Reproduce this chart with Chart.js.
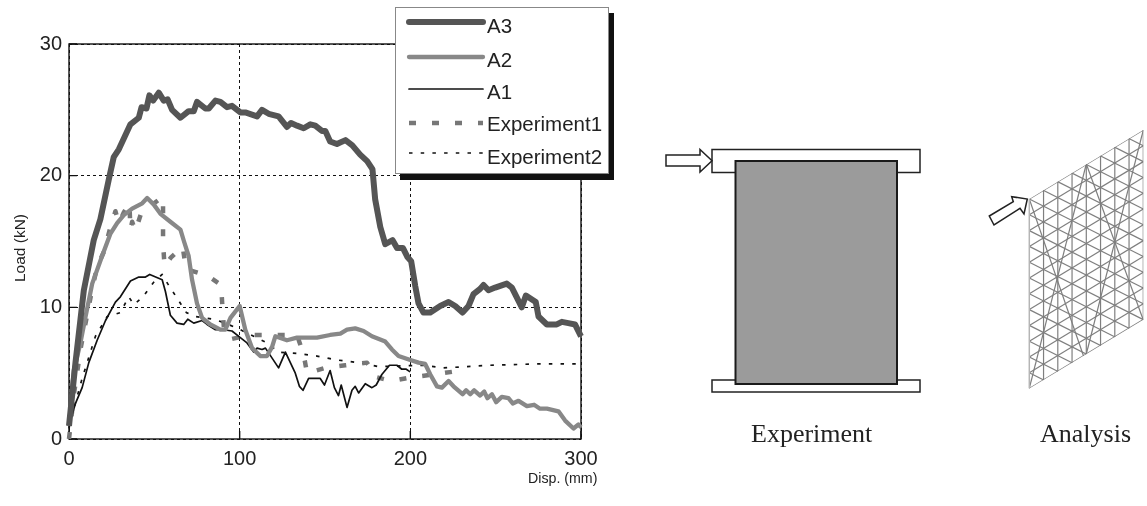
<!DOCTYPE html>
<html>
<head>
<meta charset="utf-8">
<title>Load vs displacement</title>
<script src="https://cdn.jsdelivr.net/npm/chart.js@4"></script>
<style>
  html, body { margin: 0; padding: 0; background: #fff; }
  #wrap { position: relative; width: 1147px; height: 506px; overflow: hidden; font-family: "Liberation Sans", Arial, sans-serif; color: #222; }
  #chart { position: absolute; left: 0; top: 0; }
  #art { position: absolute; left: 0; top: 0; }
  .txt { position: absolute; white-space: nowrap; line-height: 1; }
  .cap { font-family: "Liberation Serif", "Times New Roman", serif; font-size: 26px; }
  #legend { position: absolute; left: 395px; top: 7px; width: 212px; height: 165px; background: #fff; border: 1px solid #888; box-shadow: 5px 6px 0 #111; }
  #legend svg { position: absolute; left: 0; top: 0; }
  #legend .txt { font-size: 20.5px; }
</style>
</head>
<body>
<div id="wrap">
  <canvas id="chart" width="1147" height="506"></canvas>
  <svg id="art" width="1147" height="506"></svg>
  <div id="legend"></div>
  <div class="txt" style="left:20px;top:248px;font-size:15.5px;transform:translate(-50%,-50%) rotate(-90deg)">Load (kN)</div>
  <div class="txt" style="left:528px;top:471px;font-size:14.2px">Disp. (mm)</div>
  <div class="txt cap" style="left:751px;top:421px">Experiment</div>
  <div class="txt cap" style="left:1040px;top:421px">Analysis</div>
</div>
<script>
// values: displacement (mm) / load (kN)
const xTicks = [0, 100, 200, 300];
const yTicks = [0, 10, 20, 30];

const a3X = [0, 3.8, 8.7, 14.5, 18.4, 23.3, 26.2, 29.2, 36, 40.9, 42.5, 45.4, 47.1, 49.3, 52.6, 55.5, 57.8, 60.4, 65.3, 70.1, 73.1, 75, 79.9, 81.9, 85.8, 88.7, 92.6, 95.5, 100.4, 103.3, 110.2, 113.1, 117, 122.8, 127.7, 130.1, 133.6, 137.5, 141.4, 144.3, 148.2, 150.2, 153, 157, 162, 166, 170.6, 174.7, 177.8, 179.4, 182.4, 185.3, 189.6, 192.2, 195.7, 198.4, 200.5, 202.9, 204.8, 207.7, 211.7, 217.5, 222.4, 226.3, 230.6, 234.1, 237, 240.9, 242.9, 245.8, 249.7, 256.5, 259.5, 265.3, 267.7, 273.5, 275.1, 280, 285.8, 288.8, 292.6, 296.5, 300];
const a3Y = [1, 5.8, 11.3, 15.1, 16.7, 19.7, 21.4, 22, 23.9, 24.4, 25.2, 25.1, 26.1, 25.7, 26.3, 25.7, 25.8, 25, 24.4, 24.9, 24.9, 25.6, 25.1, 25.1, 25.7, 25.6, 25.2, 25.3, 24.8, 24.8, 24.5, 25, 24.7, 24.5, 23.7, 24, 23.8, 23.6, 23.9, 23.8, 23.4, 23.4, 22.6, 22.4, 22.7, 22.3, 21.6, 21.1, 20.5, 18.2, 16.1, 14.8, 15.1, 14.5, 14.5, 13.8, 13.5, 11.6, 10.3, 9.6, 9.6, 10.1, 10.4, 10.1, 9.6, 10.1, 11, 11.4, 11.7, 11.3, 11.5, 11.8, 11.5, 10, 10.9, 10.4, 9.3, 8.7, 8.7, 8.9, 8.8, 8.7, 7.8];

const a2X = [0, 2.8, 6.7, 9.7, 13.6, 19.4, 24.3, 28.2, 32.1, 37, 42.9, 45.8, 49.7, 53.6, 59.4, 65.3, 67.4, 70.1, 72.1, 75, 78, 82.8, 88.7, 91.6, 94.6, 100, 103.3, 107.3, 112.1, 116, 119, 120.9, 127.7, 133.6, 145.3, 153, 159, 162.9, 167.7, 172.6, 177.5, 185.3, 189.2, 193.1, 200, 204.8, 208.7, 211.7, 215.6, 218.5, 222.4, 225.3, 230.6, 232.7, 235.1, 237.4, 240.9, 243.3, 245.2, 247.8, 250.3, 253.6, 257.5, 260, 263.4, 268.3, 272.5, 276, 280, 286.8, 290.7, 295.6, 298.5, 300];
const a2Y = [1, 5.2, 7.3, 9.3, 11.8, 13.9, 15.6, 16.4, 17, 17.5, 17.9, 18.3, 17.8, 17.1, 16.5, 15.9, 15, 13.9, 12.1, 10.3, 9.2, 8.7, 8.3, 8.3, 9.2, 10.1, 8.3, 6.9, 6.3, 6.3, 7, 7.8, 7.5, 7.7, 7.7, 7.9, 8, 8.3, 8.4, 8.2, 7.8, 7.4, 6.8, 6.3, 6, 5.8, 5.7, 4.9, 4, 3.9, 4.4, 4, 3.4, 3.7, 3.4, 3.7, 3.3, 3.6, 3.1, 3.4, 2.8, 3.2, 3.1, 2.7, 2.9, 2.5, 2.6, 2.3, 2.3, 2.1, 1.4, 0.8, 1.1, 0.9];

const a1X = [0, 3.8, 7.7, 11.6, 16.5, 21.4, 27.2, 30.1, 36, 40.9, 44.8, 47.3, 54.6, 56.5, 59.4, 63.3, 67.2, 69.6, 73.1, 78, 80.9, 85.8, 90.6, 95.5, 100.4, 104.3, 108.2, 110.2, 113.1, 115.1, 122.8, 126.8, 132.6, 135, 137.1, 140.4, 147.2, 149.7, 153, 155.5, 157.9, 159.5, 162.9, 165.8, 167.7, 169.7, 173.6, 177.5, 180, 183.3, 187.8, 192.1, 195, 197.6, 199.9];
const a1Y = [1.1, 2.7, 3.9, 5.8, 7.5, 9, 10.4, 10.8, 12, 12.3, 12.3, 12.5, 12.1, 11.2, 9.4, 8.8, 8.7, 9.1, 8.8, 9, 8.7, 8.3, 8.3, 8.2, 7.7, 7.3, 6.6, 6.9, 6.8, 6.9, 5.4, 6.6, 5, 4, 3.7, 4.6, 4.6, 4.1, 5.2, 3.9, 3.3, 4.1, 2.4, 3.7, 4, 3.5, 4.2, 3.9, 4.1, 4.9, 5.6, 5.6, 5.3, 5.3, 5.1];

const exp1X = [0, 3, 7, 13.6, 16.5, 20.4, 23.9, 27.2, 29.2, 32.1, 35.4, 36, 37, 38.9, 42.4, 55.1, 55.1, 55.1, 56, 59.8, 66.6, 68.6, 81.3, 89.1, 90, 91, 95.5, 106, 120, 133.6, 137.5, 139.5, 150.2, 161.9, 174.6, 180, 188.8, 201.3, 213.6, 224.4];
const exp1Y = [0, 3.5, 7, 11.4, 13.1, 14.2, 15.9, 17.3, 16.4, 17.2, 17.9, 15.9, 16.5, 15.8, 17.2, 18.4, 16.6, 14.9, 13.1, 13.8, 14.6, 12.9, 12.4, 11.7, 9.8, 8, 7.6, 7.9, 7.9, 7.9, 6.4, 5, 5.4, 5.6, 5.8, 4.7, 4.4, 4.7, 4.9, 5.1];

const exp2X = [0, 0.9, 7.7, 15.5, 22.4, 30.1, 35, 38, 43.4, 46.7, 50.2, 54.6, 57.8, 63.3, 68.8, 74.1, 84.8, 91.6, 100.4, 108.2, 116, 122.8, 133.6, 145.3, 153, 157, 169.5, 181.4, 207.7, 219.4, 246.8, 274.1, 300];
const exp2Y = [0.8, 1.4, 4.6, 7.8, 9.3, 9.6, 10.8, 10.2, 10.8, 11.4, 12, 12.5, 11.8, 10.7, 9.6, 9.3, 9.1, 8.8, 8.3, 7.8, 7.3, 6.6, 6.5, 6.3, 6.1, 6, 5.8, 5.5, 5.6, 5.4, 5.6, 5.7, 5.7];

function pts(xs, ys) {
    return xs.map((x, i) => ({ x: x, y: ys[i] }));
}

const series = [
    { label: 'A3', data: pts(a3X, a3Y), borderColor: '#555555', borderWidth: 6 },
    { label: 'A2', data: pts(a2X, a2Y), borderColor: '#888888', borderWidth: 4.3 },
    { label: 'A1', data: pts(a1X, a1Y), borderColor: '#111111', borderWidth: 1.7 },
    { label: 'Experiment1', data: pts(exp1X, exp1Y), borderColor: '#777777', borderWidth: 4.5, borderDash: [7, 16], borderCapStyle: 'butt' },
    { label: 'Experiment2', data: pts(exp2X, exp2Y), borderColor: '#111111', borderWidth: 1.7, borderDash: [3.5, 8.2], borderCapStyle: 'butt' }
];
series.forEach(s => {
    s.showLine = true;
    s.pointRadius = 0;
    s.fill = false;
    s.tension = 0;
    s.clip = false;
    s.borderJoinStyle = 'round';
});

// solid frame and short inward ticks, the grid itself is dotted
const framePlugin = {
    id: 'frame',
    beforeDatasetsDraw(chart) {
        const c = chart.ctx, a = chart.chartArea;
        c.save();
        c.strokeStyle = '#111';
        c.lineWidth = 1.4;
        c.strokeRect(a.left, a.top, a.right - a.left, a.bottom - a.top);
        c.beginPath();
        yTicks.forEach(v => {
            const p = chart.scales.y.getPixelForValue(v);
            c.moveTo(a.left, p); c.lineTo(a.left + 8, p);
        });
        xTicks.forEach(v => {
            const p = chart.scales.x.getPixelForValue(v);
            c.moveTo(p, a.bottom); c.lineTo(p, a.bottom - 8);
        });
        c.stroke();
        c.restore();
    }
};

const tickFont = { family: '"Liberation Sans", Arial, sans-serif', size: 20 };
const chart = new Chart(document.getElementById('chart'), {
    type: 'scatter',
    data: { datasets: series },
    plugins: [framePlugin],
    options: {
        responsive: false,
        animation: false,
        layout: { padding: { left: 0, top: 44, right: 566, bottom: 27 } },
        plugins: { legend: { display: false }, tooltip: { enabled: false } },
        scales: {
            x: {
                type: 'linear', min: 0, max: 300,
                afterBuildTicks: s => { s.ticks = xTicks.map(v => ({ value: v })); },
                afterFit: s => { s.height = 40; },
                border: { display: false, dash: [3, 3] },
                grid: { color: '#111', lineWidth: 1, drawTicks: false },
                ticks: { color: '#222', font: tickFont, padding: 8, maxRotation: 0 }
            },
            y: {
                type: 'linear', min: 0, max: 30,
                afterBuildTicks: s => { s.ticks = yTicks.map(v => ({ value: v })); },
                afterFit: s => { s.width = 69; },
                border: { display: false, dash: [3, 3] },
                grid: { color: '#111', lineWidth: 1, drawTicks: false },
                ticks: { color: '#222', font: tickFont, padding: 7 }
            }
        }
    }
});

// legend box built from the datasets
const legendRows = [22, 57, 89, 123, 153];
const legendText = [26, 60, 92, 124, 157];
const legendEl = document.getElementById('legend');
let legendSvg = '<svg width="212" height="165">';
series.forEach((s, i) => {
    const dash = s.borderDash ? ' stroke-dasharray="' + s.borderDash.join(' ') + '"' : '';
    const cap = s.borderDash ? 'butt' : 'round';
    legendSvg += '<line x1="13" x2="87" y1="' + (legendRows[i] - 8) + '" y2="' + (legendRows[i] - 8) + '" stroke="' + s.borderColor + '" stroke-width="' + s.borderWidth + '" stroke-linecap="' + cap + '"' + dash + '/>';
});
legendSvg += '</svg>';
legendEl.innerHTML = legendSvg + series.map((s, i) =>
    '<div class="txt" style="left:91px;top:' + (legendText[i] - 8 - 10) + 'px">' + s.label + '</div>').join('');

// right hand sketches, these are pictures and not data
let art = '';
function box(x, y, w, h, fill, sw, col) {
    return '<rect x="' + x + '" y="' + y + '" width="' + w + '" height="' + h + '" fill="' + fill + '" stroke="' + col + '" stroke-width="' + sw + '"/>';
}
art += box(712, 149.5, 208, 23, '#fff', 1.5, '#222');
art += box(712, 380, 208, 12, '#fff', 1.5, '#222');
art += box(735.5, 161, 161.5, 223, '#9b9b9b', 2, '#1a1a1a');
art += '<polygon points="666,155 700,155 700,149.5 712,160.7 700,172 700,166 666,166" fill="#fff" stroke="#222" stroke-width="1.5"/>';

// analysis mesh
const meshX0 = 1029.3, meshStep = 14.25, meshCols = 8;
const meshY0 = 199, meshRow = 15.8, meshRows = 12, meshSlope = 0.605;
const meshW = meshStep * meshCols, meshRise = meshW * meshSlope, meshH = meshRow * meshRows;
const meshFall = meshCols * (meshRow - meshStep * meshSlope);
art += '<clipPath id="meshClip"><polygon points="' + meshX0 + ',' + meshY0 + ' ' + (meshX0 + meshW) + ',' + (meshY0 - meshRise) + ' ' + (meshX0 + meshW) + ',' + (meshY0 - meshRise + meshH) + ' ' + meshX0 + ',' + (meshY0 + meshH) + '"/></clipPath>';
art += '<g clip-path="url(#meshClip)" stroke="#7f7f7f" stroke-width="1.2" fill="none">';
function seg(x1, y1, x2, y2) {
    return '<line x1="' + x1 + '" y1="' + y1 + '" x2="' + x2 + '" y2="' + y2 + '"/>';
}
for (let c = 0; c <= meshCols; c++) {
    const x = meshX0 + c * meshStep;
    art += seg(x, 0, x, 506);
}
for (let k = 0; k <= meshRows; k++) {
    const y = meshY0 + k * meshRow;
    art += seg(meshX0, y, meshX0 + meshW, y - meshRise);
}
for (let k = -meshCols; k <= meshRows; k++) {
    const y = meshY0 + k * meshRow;
    art += seg(meshX0, y, meshX0 + meshW, y + meshFall);
}
// long braces across two panels
art += seg(1029.3, 199, 1086.3, 364);
art += seg(1086.3, 164, 1029.3, 388.3);
art += seg(1086.3, 164, 1143.3, 320);
art += seg(1143.3, 130, 1086.3, 354);
art += '</g>';
art += seg(1029.3, 199, 1029.3, 388.3).replace('/>', ' stroke="#b5b5b5" stroke-width="1.5"/>');
art += '<polygon points="989.3,216 1013.3,201.7 1011.7,196.7 1027.3,199 1024,214 1020,208.3 994,225" fill="#fff" stroke="#222" stroke-width="1.5"/>';
document.getElementById('art').innerHTML = art;
</script>
</body>
</html>
